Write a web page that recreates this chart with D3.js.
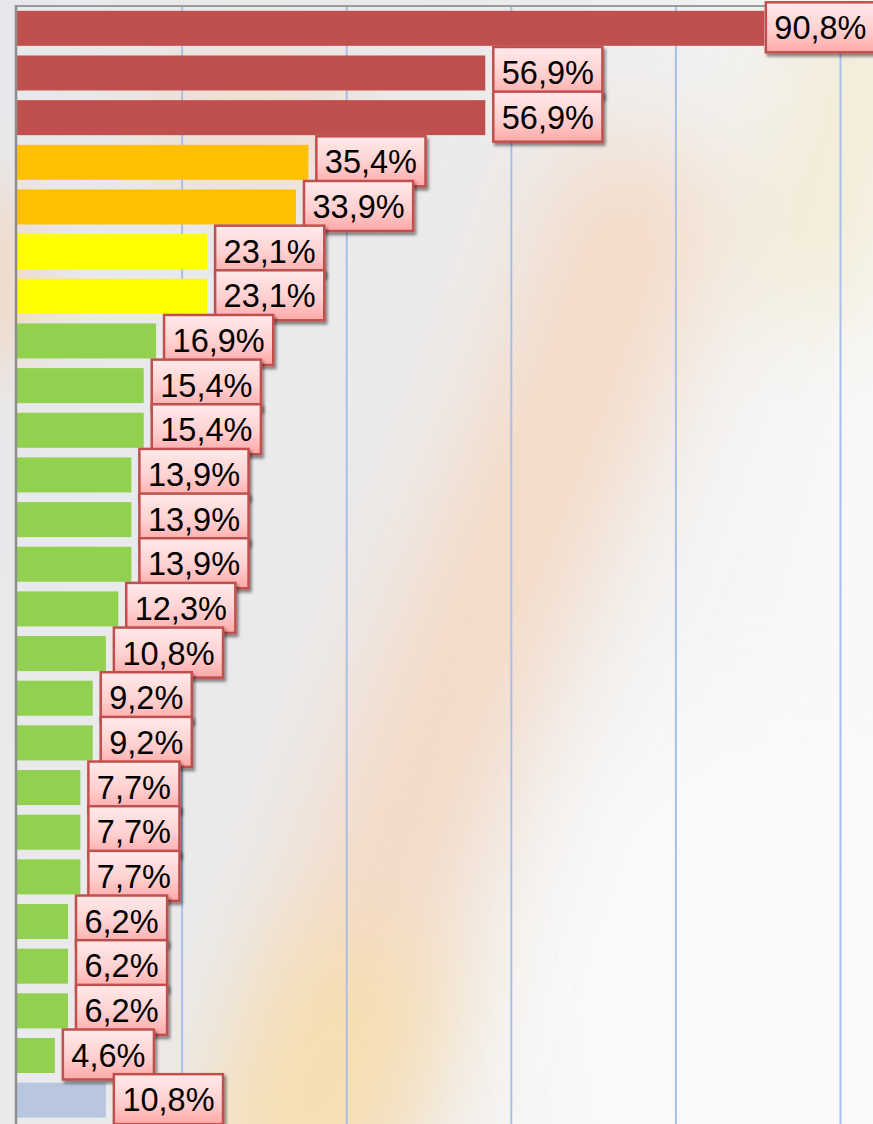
<!DOCTYPE html>
<html>
<head>
<meta charset="utf-8">
<script src="https://cdn.jsdelivr.net/npm/d3@7"></script>
<style>
  html, body { margin: 0; padding: 0; background: #f2f2f3; }
  svg { display: block; }
</style>
</head>
<body>
<div id="chart"></div>
<script>
// ---- data ----
const categories = ["1","2","3","4","5","6","7","8","9","10","11","12","13","14","15","16","17","18","19","20","21","22","23","24","25"];
const values = [90.8, 56.9, 56.9, 35.4, 33.9, 23.1, 23.1, 16.9, 15.4, 15.4, 13.9, 13.9, 13.9, 12.3, 10.8, 9.2, 9.2, 7.7, 7.7, 7.7, 6.2, 6.2, 6.2, 4.6, 10.8];
const groups = ["high","high","high","mid","mid","low","low","other","other","other","other","other","other","other","other","other","other","other","other","other","other","other","other","other","rest"];
const groupColors = { high: "#c0504d", mid: "#ffc000", low: "#ffff00", other: "#92d050", rest: "#b9c6df" };
const gridTicks = [20, 40, 60, 80, 100];

const W = 873, H = 1124;
const svg = d3.select("#chart").append("svg").attr("width", W).attr("height", H);
const defs = svg.append("defs");

// background gradient
const bg = defs.append("linearGradient").attr("id", "bgGrad").attr("x1", 0).attr("y1", 0).attr("x2", 1).attr("y2", 0.35);
bg.append("stop").attr("offset", "0%").attr("stop-color", "#e7e8eb");
bg.append("stop").attr("offset", "50%").attr("stop-color", "#ebebec");
bg.append("stop").attr("offset", "100%").attr("stop-color", "#f8f8f8");

function blurFilter(id, sd) {
  const f = defs.append("filter").attr("id", id).attr("filterUnits", "userSpaceOnUse")
    .attr("x", -300).attr("y", -300).attr("width", W + 600).attr("height", H + 600);
  f.append("feGaussianBlur").attr("stdDeviation", sd);
}
blurFilter("blurL", 55);
blurFilter("blurM", 35);

const lab = defs.append("linearGradient").attr("id", "labGrad").attr("x1", 0).attr("y1", 0).attr("x2", 0).attr("y2", 1);
lab.append("stop").attr("offset", "0%").attr("stop-color", "#ffeaea");
lab.append("stop").attr("offset", "55%").attr("stop-color", "#ffd0d0");
lab.append("stop").attr("offset", "100%").attr("stop-color", "#ffa8a8");

const sh = defs.append("filter").attr("id", "shadow").attr("x", "-20%").attr("y", "-20%").attr("width", "150%").attr("height", "160%");
sh.append("feDropShadow").attr("dx", 2).attr("dy", 3).attr("stdDeviation", 1.6).attr("flood-color", "#000").attr("flood-opacity", 0.45);

svg.append("rect").attr("width", W).attr("height", H).attr("fill", "url(#bgGrad)");

// soft decorative streaks
const line = d3.line().curve(d3.curveBasis);
svg.append("ellipse").attr("cx", 780).attr("cy", 1000).attr("rx", 260).attr("ry", 300).attr("fill", "#fafafa").attr("opacity", 0.9).attr("filter", "url(#blurL)");
svg.append("path").attr("d", line([[300, 1200], [360, 950], [440, 720], [540, 480], [610, 300], [650, 150]]))
  .attr("fill", "none").attr("stroke", "#f5d3b8").attr("stroke-width", 170).attr("stroke-opacity", 0.75)
  .attr("filter", "url(#blurL)");
svg.append("path").attr("d", line([[270, 1220], [320, 1080], [380, 950]]))
  .attr("fill", "none").attr("stroke", "#f7e1a9").attr("stroke-width", 150).attr("stroke-opacity", 0.85)
  .attr("filter", "url(#blurL)");
svg.append("path").attr("d", line([[880, -20], [840, 150], [800, 320]]))
  .attr("fill", "none").attr("stroke", "#f0e2b6").attr("stroke-width", 110).attr("stroke-opacity", 0.6)
  .attr("filter", "url(#blurL)");
svg.append("ellipse").attr("cx", 0).attr("cy", 280).attr("rx", 35).attr("ry", 100).attr("fill", "#f5d2b5").attr("opacity", 0.85).attr("filter", "url(#blurM)");
svg.append("ellipse").attr("cx", 250).attr("cy", 120).attr("rx", 120).attr("ry", 80).attr("fill", "#f2d8c2").attr("opacity", 0.6).attr("filter", "url(#blurM)");

// ---- scales ----
const x = d3.scaleLinear().domain([0, 100]).range([17, 840]);
const y = d3.scaleBand().domain(categories).range([6, 1122.5]).paddingInner(0.216).paddingOuter(0.108);

// gridlines
const grid = svg.append("g").attr("transform", "translate(0,6)")
  .call(d3.axisTop(x).tickValues(gridTicks).tickSize(-(H - 6)).tickFormat(""));
grid.select(".domain").remove();
grid.selectAll(".tick line").attr("stroke", "#a9bfea").attr("stroke-width", 2);

// top border
svg.append("line").attr("x1", 16).attr("x2", W).attr("y1", 6).attr("y2", 6).attr("stroke", "#9b9b9b").attr("stroke-width", 2);

// bars
svg.append("g").selectAll("rect").data(values).join("rect")
  .attr("x", x(0))
  .attr("y", (d, i) => y(categories[i]))
  .attr("width", d => x(d) - x(0))
  .attr("height", y.bandwidth())
  .attr("fill", (d, i) => groupColors[groups[i]]);

// left axis
const yAxis = svg.append("g").attr("transform", "translate(16,0)")
  .call(d3.axisLeft(y).tickSize(0).tickFormat(""));
yAxis.select(".domain").attr("stroke", "#8e8e8e").attr("stroke-width", 2.5).attr("d", "M0,5V" + H);

// labels
const fmt = v => v.toFixed(1).replace(".", ",") + "%";
const labels = svg.append("g").attr("font-family", "'Liberation Sans', Arial, sans-serif").attr("font-size", 32.5);
values.forEach((v, i) => {
  const txt = fmt(v);
  const g = labels.append("g");
  const t = g.append("text").text(txt).attr("fill", "#000");
  const tw = t.node().getComputedTextLength();
  const bw = tw + 17, bh = 50;
  let bx = x(v) + 8;
  if (bx + bw > W + 2) bx = W + 2 - bw;
  const cy = y(categories[i]) + y.bandwidth() / 2 - 1;
  g.insert("rect", "text")
    .attr("x", bx).attr("y", cy - bh / 2).attr("width", bw).attr("height", bh)
    .attr("fill", "url(#labGrad)").attr("stroke", "#c0504d").attr("stroke-width", 2.5)
    .attr("filter", "url(#shadow)");
  t.attr("x", bx + bw / 2).attr("text-anchor", "middle").attr("y", cy + 12);
});
</script>
</body>
</html>
